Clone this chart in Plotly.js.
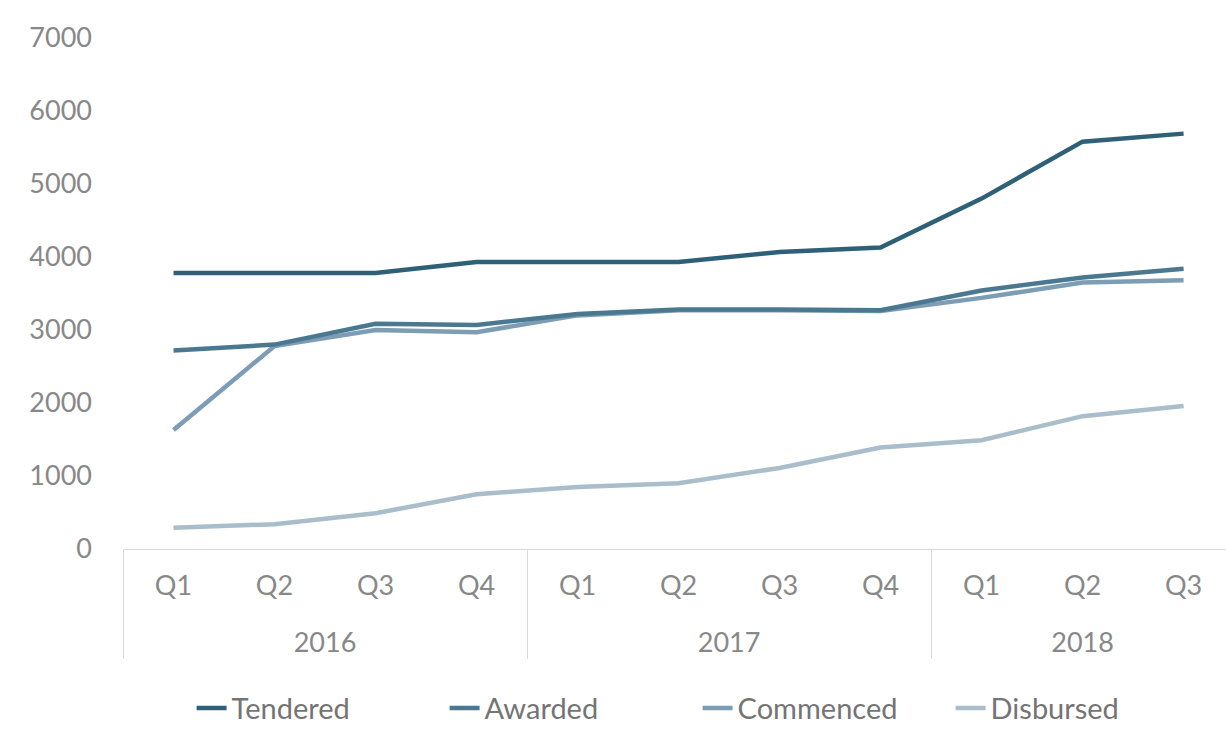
<!DOCTYPE html>
<html>
<head>
<meta charset="utf-8">
<script src="https://cdn.plot.ly/plotly-3.0.1.min.js"></script>
<style>
html,body{margin:0;padding:0;background:#fff;}
#chart{width:1226px;height:751px;}
</style>
</head>
<body>
<div id="chart"></div>
<script>
const years = ['2016','2016','2016','2016','2017','2017','2017','2017','2018','2018','2018'];
const quarters = ['Q1','Q2','Q3','Q4','Q1','Q2','Q3','Q4','Q1','Q2','Q3'];
const seriesNames = ['Tendered','Awarded','Commenced','Disbursed'];
const tendered  = [3780,3780,3780,3930,3930,3930,4070,4130,4800,5580,5690];
const awarded   = [2720,2800,3085,3070,3220,3280,3280,3270,3540,3720,3840];
const commenced = [1630,2780,3000,2970,3200,3270,3270,3260,3440,3650,3680];
const disbursed = [290,340,490,750,850,900,1110,1390,1490,1820,1960];
const seriesColors = ['#2e6078','#4b7891','#7c9db3','#a9bdca'];
const seriesValues = [tendered, awarded, commenced, disbursed];

// quarter labels get an empty second line so the year row sits lower, as in the reference
const quarterLabels = quarters.map(q => q + '<br>\u00a0');

const traces = seriesNames.map((n,i)=>({
  type:'scatter', mode:'lines', name:n,
  x:[years, quarterLabels], y:seriesValues[i],
  line:{color:seriesColors[i], width:4.5}
}));
traces.reverse();

const layout = {
  width:1226, height:751,
  paper_bgcolor:'#fff', plot_bgcolor:'#fff',
  margin:{l:123, r:0, t:38, b:202},
  font:{family:'Lato, "Open Sans", sans-serif', color:'#888888', size:27},
  showlegend:true,
  legend:{orientation:'h', traceorder:'reversed', xref:'container', yref:'container',
    x:0.569, xanchor:'center', y:0.057, yanchor:'middle',
    font:{size:29, color:'#747474'}, entrywidth:208, entrywidthmode:'pixels'},
  xaxis:{type:'multicategory', showline:true, linecolor:'#d9d9d9', linewidth:1,
    showdividers:true, dividercolor:'#d9d9d9', dividerwidth:1,
    ticks:'', range:[-0.5,10.42], showgrid:false, zeroline:false,
    ticklabelstandoff:13,
    tickfont:{size:27, color:'#888888'}},
  yaxis:{range:[0,7000], dtick:1000, showgrid:false, zeroline:false, showline:false,
    tickfont:{size:27, color:'#888888'}, ticklabelstandoff:30}
};
Plotly.newPlot('chart', traces, layout, {displayModeBar:false, staticPlot:true});
</script>
</body>
</html>
